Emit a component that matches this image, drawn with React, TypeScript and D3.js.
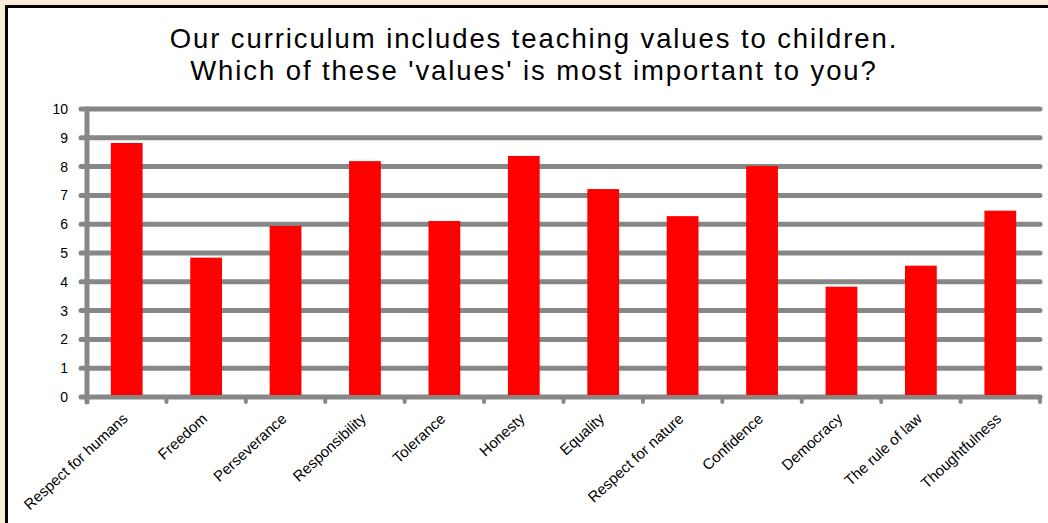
import { useEffect, useRef } from 'react';
import * as d3 from 'd3';

const categories = [
	'Respect for humans',
	'Freedom',
	'Perseverance',
	'Responsibility',
	'Tolerance',
	'Honesty',
	'Equality',
	'Respect for nature',
	'Confidence',
	'Democracy',
	'The rule of law',
	'Thoughtfulness',
];
const values = [8.82, 4.84, 5.94, 8.19, 6.11, 8.37, 7.22, 6.28, 8.02, 3.83, 4.56, 6.47];
const yTicks = [0, 1, 2, 3, 4, 5, 6, 7, 8, 9, 10];
const titleLines = ['Our curriculum includes teaching values to children.', "Which of these 'values' is most important to you?"];

const WIDTH = 1048;
const HEIGHT = 523;

export default function App() {
	const svgRef = useRef<SVGSVGElement>(null);

	useEffect(() => {
		if (!svgRef.current) return;
		const svg = d3.select(svgRef.current);
		svg.selectAll('*').remove();

		// page background and frame (frame runs off the right and bottom edges)
		svg.append('rect').attr('width', WIDTH).attr('height', HEIGHT).attr('fill', '#FAEBD7');
		svg
			.append('rect')
			.attr('x', 6.5)
			.attr('y', 6.5)
			.attr('width', WIDTH + 20)
			.attr('height', HEIGHT + 20)
			.attr('fill', '#ffffff')
			.attr('stroke', '#000000')
			.attr('stroke-width', 3);

		// title
		svg
			.append('g')
			.selectAll('text')
			.data(titleLines)
			.enter()
			.append('text')
			.attr('x', 534)
			.attr('y', (_, i) => 48 + i * 32)
			.attr('text-anchor', 'middle')
			.style('font-family', 'Liberation Sans, Arial, sans-serif')
			.style('font-size', '27.5px')
			.style('letter-spacing', '1.9px')
			.style('fill', '#000')
			.text((d) => d);

		const left = 87;
		const right = 1040;
		const top = 109;
		const bottom = 397;

		const x = d3.scaleBand<string>().domain(categories).range([left, right]).paddingInner(0.6).paddingOuter(0.3);
		const xStep = d3.scaleLinear().domain([0, categories.length]).range([left, right]);
		const y = d3.scaleLinear().domain([0, 10]).range([bottom, top]);

		// grid lines
		svg
			.append('g')
			.selectAll('line')
			.data(yTicks)
			.enter()
			.append('line')
			.attr('x1', left - 6)
			.attr('x2', right)
			.attr('y1', (d) => y(d))
			.attr('y2', (d) => y(d))
			.attr('stroke', '#878787')
			.attr('stroke-width', 5)
			.attr('stroke-linecap', 'round');

		// y axis line
		svg
			.append('line')
			.attr('x1', left)
			.attr('x2', left)
			.attr('y1', top)
			.attr('y2', bottom + 5)
			.attr('stroke', '#878787')
			.attr('stroke-width', 5)
			.attr('stroke-linecap', 'round');

		// x ticks between categories
		svg
			.append('g')
			.selectAll('line')
			.data(d3.range(1, categories.length + 1))
			.enter()
			.append('line')
			.attr('x1', (d) => xStep(d))
			.attr('x2', (d) => xStep(d))
			.attr('y1', bottom)
			.attr('y2', bottom + 5)
			.attr('stroke', '#878787')
			.attr('stroke-width', 4)
			.attr('stroke-linecap', 'round');

		// y tick labels
		svg
			.append('g')
			.selectAll('text')
			.data(yTicks)
			.enter()
			.append('text')
			.attr('x', 68)
			.attr('y', (d) => y(d) + 5)
			.attr('text-anchor', 'end')
			.style('font-family', 'Liberation Sans, Arial, sans-serif')
			.style('font-size', '14px')
			.style('fill', '#000')
			.text((d) => d);

		// bars
		svg
			.append('g')
			.selectAll('rect')
			.data(values)
			.enter()
			.append('rect')
			.attr('x', (_, i) => x(categories[i])!)
			.attr('y', (d) => y(d))
			.attr('width', x.bandwidth())
			.attr('height', (d) => bottom - 2 - y(d))
			.attr('fill', '#FF0000');

		// rotated category labels
		svg
			.append('g')
			.selectAll('text')
			.data(categories)
			.enter()
			.append('text')
			.attr('transform', (d) => `translate(${x(d)! + x.bandwidth() / 2 + 2},${bottom + 23}) rotate(-42.5)`)
			.attr('text-anchor', 'end')
			.style('font-family', 'Liberation Sans, Arial, sans-serif')
			.style('font-size', '15px')
			.style('fill', '#000')
			.text((d) => d);
	}, []);

	return (
		<div style={{ position: 'fixed', left: 0, top: 0 }}>
			<svg ref={svgRef} width={WIDTH} height={HEIGHT} style={{ display: 'block' }}></svg>
		</div>
	);
}
